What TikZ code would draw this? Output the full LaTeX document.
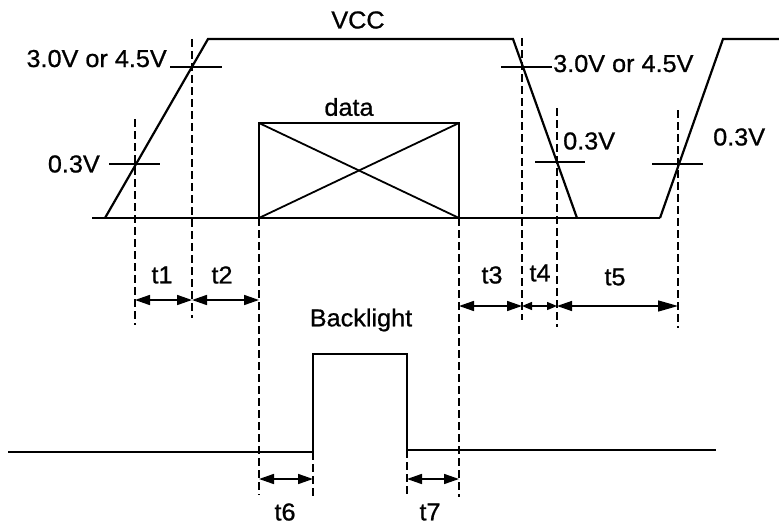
\documentclass[tikz,border=0pt]{standalone}
\usepackage{fontspec}
\setmainfont{Liberation Sans}[FakeStretch=1.03, FakeBold=0.8]
\usepackage{tikz}
\usetikzlibrary{arrows.meta}
\tikzstyle{waveLine}=[line width=2.2pt, line join=miter]
\tikzstyle{tickLine}=[line width=1.8pt]
\tikzstyle{guideLine}=[line width=1.9pt, dash pattern=on 8pt off 4pt]
\tikzstyle{dimArrow}=[line width=1.6pt, {Triangle[length=15pt,width=10pt]}-{Triangle[length=15pt,width=10pt]}]
\tikzstyle{dimArrowSmall}=[line width=1.4pt, {Triangle[length=10pt,width=8pt]}-{Triangle[length=10pt,width=8pt]}]
\tikzstyle{dimArrowLong}=[line width=1.4pt, {Triangle[length=15pt,width=10pt]}-{Triangle[length=20pt,width=11pt]}]
\tikzstyle{lbl}=[inner sep=0pt, font=\fontsize{24.5}{28}\selectfont]

\begin{document}
\begin{tikzpicture}[x=1pt, y=-1pt]
      \useasboundingbox (0,0) rectangle (779,527);
      % VCC waveform
      \coordinate(v0) at (92,218);
      \coordinate(v1) at (105,218);
      \coordinate(v2) at (208,39);
      \coordinate(v3) at (513,39);
      \coordinate(v4) at (577,218);
      \coordinate(v5) at (660,218);
      \coordinate(v6) at (723,39);
      \coordinate(v7) at (779,39);
      \draw[waveLine] (v0) -- (v5);
      \draw[waveLine] (v1) -- (v2) -- (v3) -- (v4);
      \draw[waveLine] (v5) -- (v6) -- (v7);
      \node(vcc) [lbl] at (358,20) {VCC};
      % threshold ticks
      \coordinate(h1a) at (170,67);
      \coordinate(h1b) at (222,67);
      \coordinate(h2a) at (109,164);
      \coordinate(h2b) at (160,164);
      \coordinate(h3a) at (501,67);
      \coordinate(h3b) at (552,67);
      \coordinate(h4a) at (535,162);
      \coordinate(h4b) at (585,162);
      \coordinate(h5a) at (652,164);
      \coordinate(h5b) at (703,164);
      \draw[tickLine] (h1a) -- (h1b);
      \draw[tickLine] (h2a) -- (h2b);
      \draw[tickLine] (h3a) -- (h3b);
      \draw[tickLine] (h4a) -- (h4b);
      \draw[tickLine] (h5a) -- (h5b);
      \node(hi1) [lbl, anchor=base east] at (167,67) {3.0V or 4.5V};
      \node(lo1) [lbl, anchor=east] at (100,164) {0.3V};
      \node(hi2) [lbl, anchor=base west] at (553,72) {3.0V or 4.5V};
      \node(lo2) [lbl, anchor=west] at (563,141) {0.3V};
      \node(lo3) [lbl, anchor=west] at (713,137) {0.3V};
      % data
      \coordinate(dTL) at (259,123);
      \coordinate(dBR) at (459,218);
      \draw[waveLine] (dTL) rectangle (dBR);
      \draw[tickLine] (dTL) -- (dBR);
      \draw[tickLine] (dTL |- dBR) -- (dBR |- dTL);
      \node(data) [lbl] at (349,107) {data};
      % backlight
      \coordinate(b0) at (8,452);
      \coordinate(b1) at (313,452);
      \coordinate(b2) at (313,354);
      \coordinate(b3) at (407,354);
      \coordinate(b4) at (407,450);
      \coordinate(b5) at (716,450);
      \draw[waveLine] (b0) -- (b1) -- (b2) -- (b3) -- (b4) -- (b5);
      \node(bl) [lbl] at (361,320) {Backlight};
      % dashed guides
      \coordinate(g1a) at (135,119);
      \coordinate(g1b) at (135,325);
      \coordinate(g2a) at (192,39);
      \coordinate(g2b) at (192,318);
      \coordinate(g3a) at (259,218);
      \coordinate(g3b) at (259,495);
      \coordinate(g4a) at (459,218);
      \coordinate(g4b) at (459,497);
      \coordinate(g5a) at (522,38);
      \coordinate(g5b) at (522,320);
      \coordinate(g6a) at (557,108);
      \coordinate(g6b) at (557,327);
      \coordinate(g7a) at (678,110);
      \coordinate(g7b) at (678,328);
      \coordinate(g8a) at (313,452);
      \coordinate(g8b) at (313,499);
      \coordinate(g9a) at (407,450);
      \coordinate(g9b) at (407,497);
      \draw[guideLine] (g1a) -- (g1b);
      \draw[guideLine] (g2a) -- (g2b);
      \draw[guideLine] (g3a) -- (g3b);
      \draw[guideLine] (g4a) -- (g4b);
      \draw[guideLine] (g5a) -- (g5b);
      \draw[guideLine] (g6a) -- (g6b);
      \draw[guideLine] (g7a) -- (g7b);
      \draw[guideLine] (g8a) -- (g8b);
      \draw[guideLine] (g9a) -- (g9b);
      % timings
      \draw[dimArrow] (g1a |- 0,300) -- (g2a |- 0,300);
      \draw[dimArrow] (g2a |- 0,300) -- (g3a |- 0,300);
      \draw[dimArrow] (g4a |- 0,306) -- (g5a |- 0,306);
      \draw[dimArrowSmall] (g5a |- 0,306) -- (g6a |- 0,306);
      \draw[dimArrowLong] (g6a |- 0,306) -- (g7a |- 0,306);
      \draw[dimArrow] (g3a |- 0,479) -- (g8a |- 0,479);
      \draw[dimArrow] (g9a |- 0,479) -- (g4a |- 0,479);
      \node(t1) [lbl] at (162,275) {t1};
      \node(t2) [lbl] at (222,275) {t2};
      \node(t3) [lbl] at (492,275) {t3};
      \node(t4) [lbl] at (540,273) {t4};
      \node(t5) [lbl] at (615,277) {t5};
      \node(t6) [lbl] at (285,512) {t6};
      \node(t7) [lbl] at (430,512) {t7};
    \end{tikzpicture}
\end{document}
